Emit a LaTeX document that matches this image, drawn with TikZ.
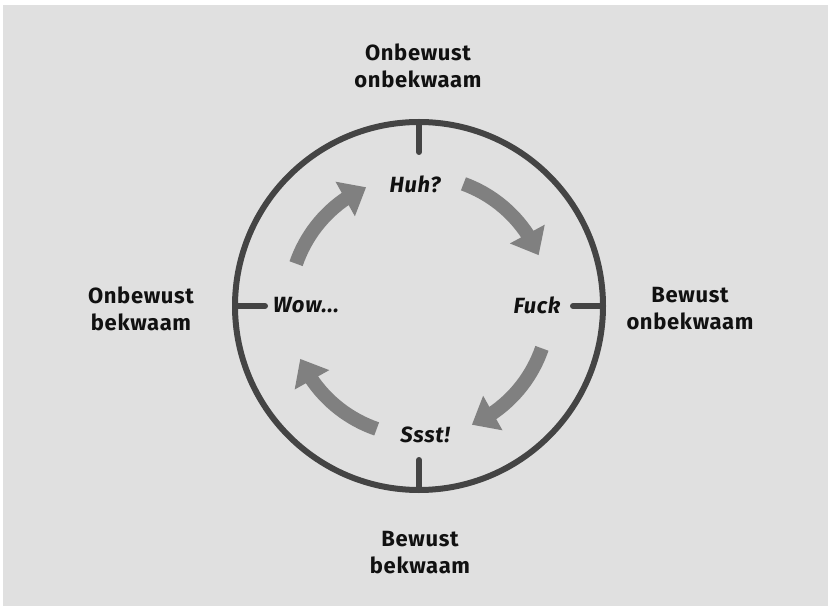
\documentclass[tikz,border=0pt]{standalone}
\usepackage{fontspec}
\setmainfont{Fira Sans}[LetterSpace=3]
\usetikzlibrary{arrows.meta,bending}
\definecolor{bg}{HTML}{E0E0E0}
\definecolor{ring}{HTML}{444444}
\definecolor{flowc}{HTML}{808080}
\definecolor{txt}{HTML}{111111}
\begin{document}
\begin{tikzpicture}[x=1pt,y=1pt,
  outer/.style={font=\fontsize{22}{27}\selectfont\bfseries, text=txt, align=center, inner sep=0pt},
  inner/.style={font=\fontsize{22}{27}\selectfont\bfseries\itshape, text=txt, inner sep=0pt},
  ringline/.style={draw=ring, line width=6pt},
  tickline/.style={draw=ring, line width=6pt, line cap=round},
  flow/.style={draw=flowc, line width=14pt, -{Triangle[width=38pt,length=24pt,flex]}}]
\useasboundingbox (0,0) rectangle (828,606);
\fill[bg] (3,0) rectangle (828,601);
\coordinate (c) at (419,300);
\draw[ringline] (c) circle[radius=184];
\coordinate (tT) at (419,484); \coordinate (tTi) at (419,454);
\coordinate (tR) at (603,300); \coordinate (tRi) at (573,300);
\coordinate (tL) at (235,300); \coordinate (tLi) at (265,300);
\coordinate (tB) at (419,116); \coordinate (tBi) at (419,146);
\draw[tickline] (tT) -- (tTi);
\draw[tickline] (tR) -- (tRi);
\draw[tickline] (tL) -- (tLi);
\draw[tickline] (tB) -- (tBi);
\draw[flow] (c) ++(161:130) arc[start angle=161, end angle=114, radius=130];
\draw[flow] (c) ++(70:130) arc[start angle=70, end angle=23, radius=130];
\draw[flow] (c) ++(-19:130) arc[start angle=-19, end angle=-66, radius=130];
\draw[flow] (c) ++(-109:130) arc[start angle=-109, end angle=-156, radius=130];
\node[outer] (top) at (418,540) {Onbewust\\onbekwaam};
\node[outer] (right) at (690,297) {Bewust\\onbekwaam};
\node[outer] (left) at (141,297) {Onbewust\\bekwaam};
\node[outer] (bottom) at (420,53) {Bewust\\bekwaam};
\node[inner] (huh) at (415,422) {Huh?};
\node[inner] (fuck) at (537,301) {Fuck};
\node[inner] (wow) at (306,301) {Wow...};
\node[inner] (ssst) at (425,171) {Ssst!};
\end{tikzpicture}
\end{document}
